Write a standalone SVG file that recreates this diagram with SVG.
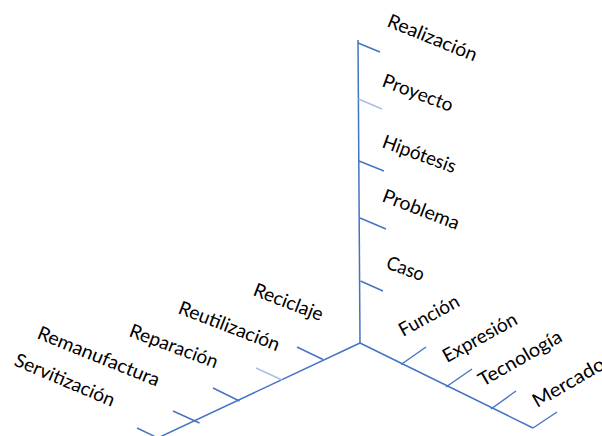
<svg xmlns="http://www.w3.org/2000/svg" width="602" height="436" viewBox="0 0 602 436">
<style>
.ax{stroke:#4472C4;stroke-width:1.5;fill:none;stroke-linecap:butt}
.tk{stroke:#4472C4;stroke-width:1.4;fill:none}
.tkl{stroke:#A9BEE6;stroke-width:1.4;fill:none}
text{font-family:Lato,"Open Sans","Noto Sans",sans-serif;font-size:19px;fill:#000}
</style>
<rect width="602" height="436" fill="#fff"/>
<g id="connectors">
<line class="ax" x1="358" y1="40" x2="360" y2="343"/>
<line class="ax" x1="360" y1="343" x2="533" y2="428"/>
<line class="ax" x1="360" y1="343" x2="130" y2="451"/>
</g>
<g id="realizacion"><line class="tk" x1="358" y1="43" x2="380" y2="52"/><text transform="translate(386,26) rotate(22)" textLength="95" lengthAdjust="spacingAndGlyphs">Realización</text></g>
<g id="proyecto"><line class="tkl" x1="358.5" y1="99" x2="382" y2="109"/><text transform="translate(381,86) rotate(20.5)" textLength="74" lengthAdjust="spacingAndGlyphs">Proyecto</text></g>
<g id="hipotesis"><line class="tk" x1="359" y1="161" x2="384" y2="171"/><text transform="translate(381,147) rotate(20)" textLength="77" lengthAdjust="spacingAndGlyphs">Hipótesis</text></g>
<g id="problema"><line class="tk" x1="360" y1="218" x2="386" y2="229"/><text transform="translate(381,201) rotate(21)" textLength="81" lengthAdjust="spacingAndGlyphs">Problema</text></g>
<g id="caso"><line class="tk" x1="360.5" y1="281" x2="383" y2="291"/><text transform="translate(385,268) rotate(20)" textLength="39" lengthAdjust="spacingAndGlyphs">Caso</text></g>
<g id="funcion"><line class="tk" x1="401" y1="364.5" x2="426" y2="347"/><text transform="translate(403,337) rotate(-28.5)" textLength="66" lengthAdjust="spacingAndGlyphs">Función</text></g>
<g id="expresion"><line class="tk" x1="446" y1="387" x2="472" y2="369"/><text transform="translate(447,363) rotate(-29)" textLength="82" lengthAdjust="spacingAndGlyphs">Expresión</text></g>
<g id="tecnologia"><line class="tk" x1="491" y1="409" x2="516" y2="391"/><text transform="translate(483,387) rotate(-30)" textLength="93" lengthAdjust="spacingAndGlyphs">Tecnología</text></g>
<g id="mercado"><line class="tk" x1="533" y1="428" x2="557" y2="412"/><text transform="translate(537,408) rotate(-30)" textLength="80" lengthAdjust="spacingAndGlyphs">Mercado</text></g>
<g id="reciclaje"><line class="tk" x1="297" y1="347" x2="323" y2="359.5"/><text transform="translate(252,295) rotate(21)" textLength="73" lengthAdjust="spacingAndGlyphs">Reciclaje</text></g>
<g id="reutilizacion"><line class="tkl" x1="256" y1="368" x2="282" y2="380"/><text transform="translate(177,313) rotate(21)" textLength="107" lengthAdjust="spacingAndGlyphs">Reutilización</text></g>
<g id="reparacion"><line class="tk" x1="213" y1="388" x2="239.5" y2="401"/><text transform="translate(128,336) rotate(20.5)" textLength="93" lengthAdjust="spacingAndGlyphs">Reparación</text></g>
<g id="remanufactura"><line class="tk" x1="173" y1="411" x2="199.5" y2="423"/><text transform="translate(36,338) rotate(22)" textLength="130" lengthAdjust="spacingAndGlyphs">Remanufactura</text></g>
<g id="servitizacion"><line class="tk" x1="137" y1="428" x2="160" y2="439"/><text transform="translate(13,365) rotate(23)" textLength="107" lengthAdjust="spacingAndGlyphs">Servitización</text></g>
</svg>
